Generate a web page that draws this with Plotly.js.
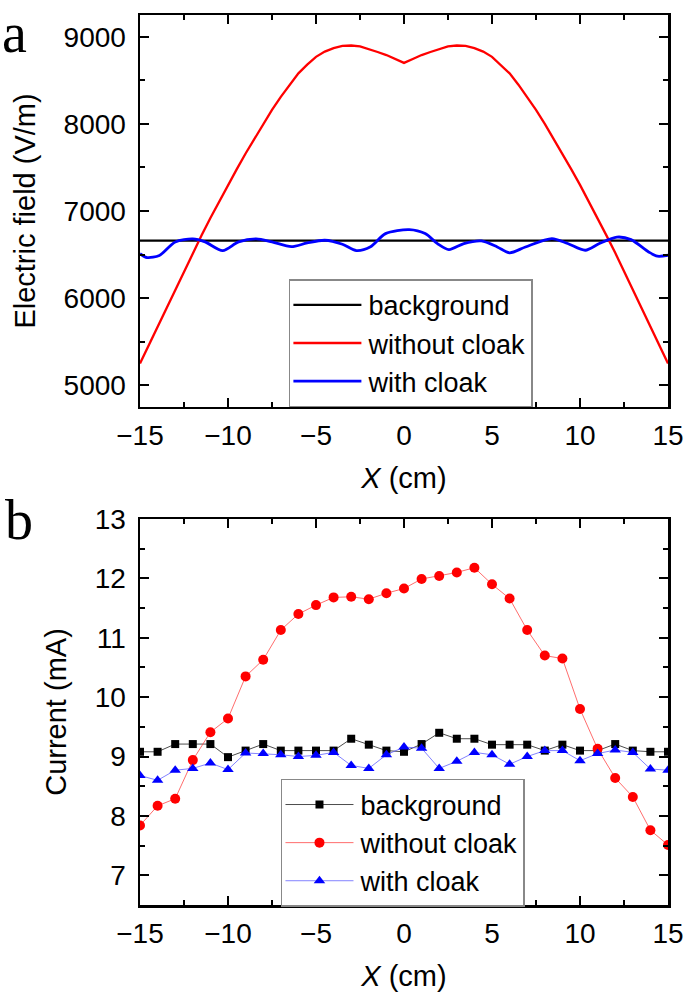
<!DOCTYPE html>
<html>
<head>
<meta charset="utf-8">
<script src="https://cdn.plot.ly/plotly-3.0.1.min.js"></script>
<style>
  body { margin: 0; background: #fff; }
  #chart { width: 685px; height: 996px; }
</style>
</head>
<body>
<div id="chart"></div>
<script>
// panel a: electric field along X (cm)
var fieldX = [-15,-14.5,-14,-13.5,-13,-12.5,-12,-11.5,-11,-10.5,-10,-9.5,-9,-8.5,-8,-7.5,-7,-6.5,-6,-5.5,-5,-4.5,-4,-3.5,-3,-2.5,-2,-1.5,-1,-0.5,0,
              0.5,1,1.5,2,2.5,3,3.5,4,4.5,5,5.5,6,6.5,7,7.5,8,8.5,9,9.5,10,10.5,11,11.5,12,12.5,13,13.5,14,14.5,15];
var fieldNoCloak = [5250,5460,5680,5890,6100,6310,6520,6720,6920,7110,7300,7480,7660,7830,8000,8160,8310,8450,8580,8680,8770,8830,8870,8895,8900,8890,8860,8825,8790,8745,8700,
                    8745,8790,8825,8860,8890,8900,8895,8870,8830,8770,8680,8580,8450,8310,8160,8000,7830,7660,7480,7300,7110,6920,6720,6520,6310,6100,5890,5680,5460,5250];
var fieldBgX = [-15, 15];
var fieldBg = [6660, 6660];
var cloakX = [-15,-14.6,-13.9,-13,-12,-11.3,-10.3,-9.4,-8.4,-7.5,-6.4,-5.5,-4.5,-3.5,-2.7,-1.9,-1.05,0.3,1.2,1.9,2.55,3.4,4.4,5.3,6.0,6.9,8.4,9.3,10.3,11.1,12.1,12.9,13.9,14.4,15];
var fieldCloak = [6510,6465,6490,6645,6680,6645,6545,6645,6680,6645,6590,6633,6664,6618,6545,6590,6740,6786,6740,6626,6557,6626,6656,6587,6520,6587,6683,6626,6549,6626,6700,6671,6530,6481,6492];

// panel b: measured current (mA)
var posX = [-15,-14,-13,-12,-11,-10,-9,-8,-7,-6,-5,-4,-3,-2,-1,0,1,2,3,4,5,6,7,8,9,10,11,12,13,14,15];
var curBg = [9.08,9.08,9.21,9.21,9.21,8.99,9.10,9.21,9.10,9.10,9.10,9.10,9.30,9.20,9.10,9.08,9.21,9.40,9.30,9.30,9.20,9.20,9.20,9.10,9.20,9.10,9.10,9.21,9.10,9.08,9.08];
var curNoCloak = [7.84,8.17,8.29,8.94,9.41,9.64,10.35,10.63,11.13,11.40,11.55,11.68,11.69,11.65,11.75,11.83,11.99,12.04,12.10,12.18,11.90,11.66,11.13,10.70,10.65,9.80,9.13,8.64,8.32,7.76,7.51];
var curCloak = [8.68,8.60,8.77,8.80,8.89,8.78,9.06,9.05,9.03,9.00,9.02,9.07,8.85,8.80,9.03,9.16,9.14,8.80,8.92,9.07,9.03,8.87,9.00,9.10,9.10,8.93,9.05,9.11,9.07,8.79,8.77];

var names = ['background', 'without cloak', 'with cloak'];

var data = [
  {x: fieldBgX, y: fieldBg, mode: 'lines', name: names[0], line: {color: '#000', width: 2.3},
   xaxis: 'x', yaxis: 'y', legend: 'legend'},
  {x: fieldX, y: fieldNoCloak, mode: 'lines', name: names[1], line: {color: '#ff0000', width: 2.3},
   xaxis: 'x', yaxis: 'y', legend: 'legend'},
  {x: cloakX, y: fieldCloak, mode: 'lines', name: names[2], line: {color: '#0000ff', width: 2.8, shape: 'spline', smoothing: 0.8},
   xaxis: 'x', yaxis: 'y', legend: 'legend'},
  {x: posX, y: curBg, mode: 'lines+markers', name: names[0],
   line: {color: 'rgba(0,0,0,0.7)', width: 1}, marker: {color: '#000', symbol: 'square', size: 8},
   xaxis: 'x2', yaxis: 'y2', legend: 'legend2'},
  {x: posX, y: curNoCloak, mode: 'lines+markers', name: names[1],
   line: {color: 'rgba(255,60,60,0.75)', width: 1}, marker: {color: '#ff0000', symbol: 'circle', size: 10},
   xaxis: 'x2', yaxis: 'y2', legend: 'legend2'},
  {x: posX, y: curCloak, mode: 'lines+markers', name: names[2],
   line: {color: 'rgba(90,90,255,0.75)', width: 1}, marker: {color: '#0000ff', symbol: 'triangle-up', size: 10},
   xaxis: 'x2', yaxis: 'y2', legend: 'legend2'}
];

var font = 'Arial, "Liberation Sans", sans-serif';

function xAxis(anchor) {
  return {
    anchor: anchor, range: [-15, 15], dtick: 5, tick0: -15,
    ticks: 'inside', ticklen: 9, tickwidth: 2, tickcolor: '#000',
    minor: {dtick: 2.5, ticks: 'inside', ticklen: 5, tickwidth: 2, tickcolor: '#000'},
    showline: true, linewidth: 2.5, linecolor: '#000', mirror: 'ticks',
    showgrid: false, zeroline: false,
    tickfont: {family: font, size: 28, color: '#000'},
    ticklabelstandoff: 2,
    title: {text: '<i>X</i> (cm)', font: {family: font, size: 29, color: '#000'}, standoff: 18}
  };
}

function yAxis(anchor, domain, range, dtick, minor, title) {
  return {
    anchor: anchor, domain: domain, range: range, dtick: dtick,
    ticks: 'inside', ticklen: 9, tickwidth: 2, tickcolor: '#000',
    minor: {dtick: minor, ticks: 'inside', ticklen: 5, tickwidth: 2, tickcolor: '#000'},
    showline: true, linewidth: 2.5, linecolor: '#000', mirror: 'ticks',
    showgrid: false, zeroline: false,
    tickfont: {family: font, size: 28, color: '#000'},
    ticklabelstandoff: 6,
    title: {text: title, font: {family: font, size: 29, color: '#000'}, standoff: 20}
  };
}

var legendStyle = {
  xref: 'paper', yref: 'paper', xanchor: 'left', yanchor: 'top',
  bgcolor: '#fff', bordercolor: '#888', borderwidth: 1.5,
  font: {family: font, size: 27, color: '#000'},
  tracegroupgap: 0, itemwidth: 68
};

var layout = {
  width: 685, height: 996,
  margin: {l: 140, r: 17, t: 15, b: 91},
  paper_bgcolor: '#fff', plot_bgcolor: '#fff',
  showlegend: true,
  xaxis: xAxis('y'),
  yaxis: yAxis('x', [0.5596, 1], [4750, 9250], 1000, 500, 'Electric field (V/m)'),
  xaxis2: xAxis('y2'),
  yaxis2: yAxis('x2', [0, 0.4337], [6.5, 13], 1, 0.5, 'Current (mA)'),
  legend: Object.assign({}, legendStyle, {x: 0.282, y: 0.703}),
  legend2: Object.assign({}, legendStyle, {x: 0.267, y: 0.1416}),
  annotations: [
    {text: 'a', xref: 'paper', yref: 'paper', x: -0.266, y: 1.0169, xanchor: 'left', yanchor: 'top',
     showarrow: false, font: {family: '"Liberation Serif", "Times New Roman", serif', size: 56, color: '#000'}},
    {text: 'b', xref: 'paper', yref: 'paper', x: -0.26, y: 0.4696, xanchor: 'left', yanchor: 'top',
     showarrow: false, font: {family: '"Liberation Serif", "Times New Roman", serif', size: 56, color: '#000'}}
  ]
};

Plotly.newPlot('chart', data, layout, {staticPlot: true}).then(function(gd){
  // longer sample lines in the legends, markers centred on them
  gd.querySelectorAll('.legendlines path').forEach(function(p){
    p.setAttribute('d', 'M3,0h68');
  });
  gd.querySelectorAll('.legendpoints path.scatterpts').forEach(function(p){
    p.setAttribute('transform', 'translate(37,0)');
  });
});
</script>
</body>
</html>
